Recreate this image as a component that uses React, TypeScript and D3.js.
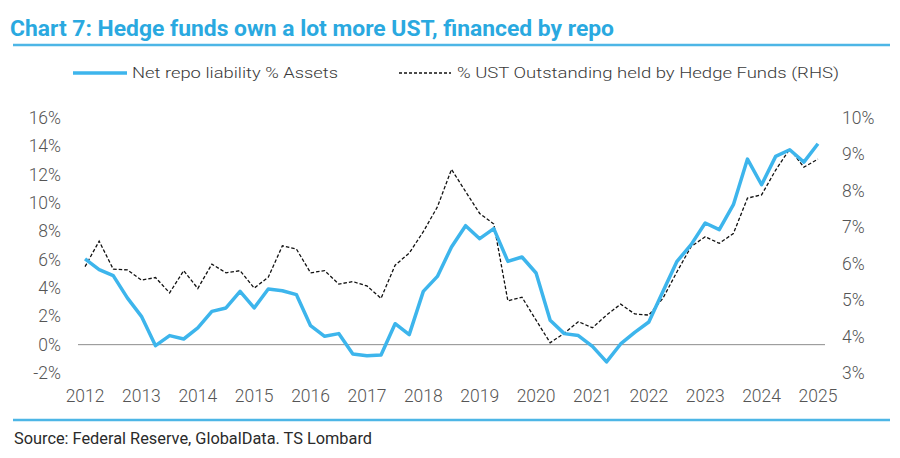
import React from 'react';
import * as d3 from 'd3';

// quarterly observations, 2012Q1 .. 2025Q1
const quarters = [
  '2012Q1', '2012Q2', '2012Q3', '2012Q4', '2013Q1', '2013Q2', '2013Q3', '2013Q4',
  '2014Q1', '2014Q2', '2014Q3', '2014Q4', '2015Q1', '2015Q2', '2015Q3', '2015Q4',
  '2016Q1', '2016Q2', '2016Q3', '2016Q4', '2017Q1', '2017Q2', '2017Q3', '2017Q4',
  '2018Q1', '2018Q2', '2018Q3', '2018Q4', '2019Q1', '2019Q2', '2019Q3', '2019Q4',
  '2020Q1', '2020Q2', '2020Q3', '2020Q4', '2021Q1', '2021Q2', '2021Q3', '2021Q4',
  '2022Q1', '2022Q2', '2022Q3', '2022Q4', '2023Q1', '2023Q2', '2023Q3', '2023Q4',
  '2024Q1', '2024Q2', '2024Q3', '2024Q4', '2025Q1',
];

const yearLabels = [
  '2012', '2013', '2014', '2015', '2016', '2017', '2018',
  '2019', '2020', '2021', '2022', '2023', '2024', '2025',
];

// Net repo liability % Assets (LHS, %)
const netRepo = [
  6.05, 5.3, 4.87, 3.3, 2.0, -0.07, 0.64, 0.4,
  1.18, 2.35, 2.59, 3.76, 2.59, 3.93, 3.81, 3.53,
  1.34, 0.59, 0.78, -0.66, -0.78, -0.73, 1.48, 0.71,
  3.76, 4.82, 6.9, 8.4, 7.48, 8.19, 5.88, 6.19,
  5.06, 1.72, 0.78, 0.64, -0.12, -1.22, 0.05, 0.87,
  1.6, 3.76, 5.88, 7.06, 8.59, 8.12, 9.88, 13.1,
  11.29, 13.29, 13.76, 12.89, 14.18,
];

// % UST Outstanding held by Hedge Funds (RHS, %)
const ustHeld = [
  5.92, 6.62, 5.85, 5.83, 5.55, 5.62, 5.2, 5.81,
  5.32, 5.99, 5.75, 5.81, 5.33, 5.63, 6.49, 6.4,
  5.75, 5.81, 5.44, 5.51, 5.39, 5.05, 5.96, 6.29,
  6.88, 7.56, 8.59, 7.98, 7.38, 7.09, 4.98, 5.08,
  4.45, 3.83, 4.09, 4.41, 4.24, 4.59, 4.89, 4.62,
  4.59, 5.05, 5.78, 6.47, 6.74, 6.56, 6.83, 7.8,
  7.89, 8.57, 9.15, 8.65, 8.87,
];

const leftTicks = [-2, 0, 2, 4, 6, 8, 10, 12, 14, 16];
const rightTicks = [3, 4, 5, 6, 7, 8, 9, 10];

const BLUE = '#3db5ec';
const TEXT = '#555555';
const FONT = 'Roboto, "Noto Sans", sans-serif';

export default function App() {
  const width = 900;
  const height = 458;
  const plot = { left: 78, right: 825, top: 118, bottom: 373 };

  const x = d3.scalePoint<string>()
    .domain(quarters)
    .range([plot.left, plot.right])
    .padding(0.5);

  const yL = d3.scaleLinear().domain([-2, 16]).range([plot.bottom, plot.top]);
  const yR = d3.scaleLinear().domain([3, 10]).range([plot.bottom, plot.top]);

  const repoLine = d3.line<number>()
    .x((_, i) => x(quarters[i]) as number)
    .y(d => yL(d));

  const ustLine = d3.line<number>()
    .x((_, i) => x(quarters[i]) as number)
    .y(d => yR(d));

  return (
    <div style={{ position: 'absolute', left: 0, top: 0 }}>
      <svg width={width} height={height} style={{ display: 'block', background: '#fff' }}>
        {/* title */}
        <text
          x={10}
          y={36}
          fill="#2aa9e0"
          fontFamily={FONT}
          fontWeight={700}
          fontSize={22}
          textLength={604}
          lengthAdjust="spacingAndGlyphs"
        >
          Chart 7: Hedge funds own a lot more UST, financed by repo
        </text>
        <line x1={13} x2={890} y1={45} y2={45} stroke="#4db6e6" strokeWidth={2.5} />

        {/* legend */}
        <g fontFamily={FONT} fontSize={15.5} fontWeight={300} fill="#3a3a3a">
          <line x1={73} x2={127} y1={73} y2={73} stroke={BLUE} strokeWidth={3.5} />
          <text x={132} y={73} dominantBaseline="central" textLength={206} lengthAdjust="spacingAndGlyphs">
            Net repo liability % Assets
          </text>
          <line x1={399} x2={451} y1={73} y2={73} stroke="#111" strokeWidth={1.3} strokeDasharray="3,2" />
          <text x={457} y={73} dominantBaseline="central" textLength={382} lengthAdjust="spacingAndGlyphs">
            % UST Outstanding held by Hedge Funds (RHS)
          </text>
        </g>

        {/* zero line */}
        <line x1={plot.left} x2={plot.right} y1={yL(0)} y2={yL(0)} stroke="#8c8c8c" strokeWidth={1} />

        {/* left axis */}
        <g fontFamily={FONT} fontSize={17.5} fontWeight={300} fill={TEXT} textAnchor="end">
          {leftTicks.map(t => (
            <text key={t} x={61} y={yL(t)} dominantBaseline="central">{`${t}%`}</text>
          ))}
        </g>

        {/* right axis */}
        <g fontFamily={FONT} fontSize={17.5} fontWeight={300} fill={TEXT} textAnchor="start">
          {rightTicks.map(t => (
            <text key={t} x={842} y={yR(t)} dominantBaseline="central">{`${t}%`}</text>
          ))}
        </g>

        {/* x axis labels */}
        <g fontFamily={FONT} fontSize={17.5} fontWeight={300} fill={TEXT} textAnchor="middle">
          {yearLabels.map(yr => (
            <text key={yr} x={x(`${yr}Q1`) as number} y={396} dominantBaseline="central">{yr}</text>
          ))}
        </g>

        {/* series */}
        <path d={ustLine(ustHeld) ?? ''} fill="none" stroke="#111" strokeWidth={1.3} strokeDasharray="3.5,2" />
        <path d={repoLine(netRepo) ?? ''} fill="none" stroke={BLUE} strokeWidth={3.5} strokeLinejoin="round" />

        {/* footer */}
        <line x1={13} x2={890} y1={420} y2={420} stroke="#4db6e6" strokeWidth={2.5} />
        <text
          x={14}
          y={438}
          fontFamily={FONT}
          fontSize={16}
          fill="#2a2a2a"
          dominantBaseline="central"
          textLength={358}
          lengthAdjust="spacingAndGlyphs"
        >
          Source: Federal Reserve, GlobalData. TS Lombard
        </text>
      </svg>
    </div>
  );
}
